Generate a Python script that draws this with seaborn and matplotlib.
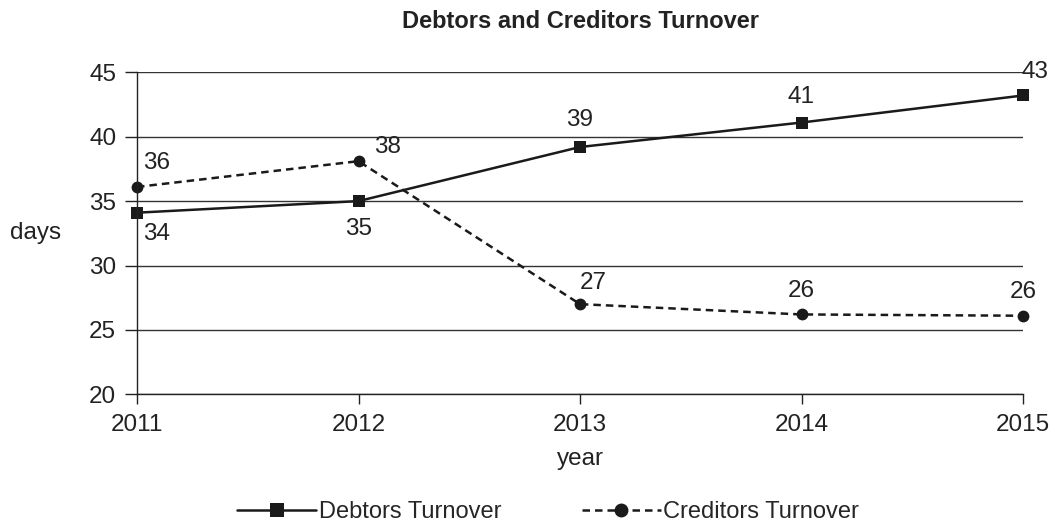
import pandas as pd
import seaborn as sns
import matplotlib.pyplot as plt

years = [2011, 2012, 2013, 2014, 2015]
debtors = [34.1, 35.0, 39.2, 41.1, 43.2]
creditors = [36.1, 38.1, 27.0, 26.2, 26.1]
series_names = ["Debtors Turnover", "Creditors Turnover"]

# label offsets in pixels (dx, dy) for each point
debtor_offsets = [(20, -21), (0, -28), (0, 27), (0, 26), (12, 23)]
creditor_offsets = [(20, 24), (29, 14), (13, 21), (0, 23), (0, 24)]

df = pd.DataFrame({
    "year": years * 2,
    "days": debtors + creditors,
    "series": [series_names[0]] * 5 + [series_names[1]] * 5,
})

sns.set_style("white")
plt.rcParams["font.family"] = ["Liberation Sans", "DejaVu Sans"]
FS = 17.5
INK = "#222222"

fig = plt.figure(figsize=(10.56, 5.24), dpi=100)
ax = fig.add_axes([137 / 1056, 1 - 394.3 / 524, (1023 - 137) / 1056, (394.3 - 72.3) / 524])

sns.lineplot(
    data=df, x="year", y="days", style="series", hue="series",
    palette={series_names[0]: "#1a1a1a", series_names[1]: "#1a1a1a"},
    markers={series_names[0]: "s", series_names[1]: "o"},
    dashes={series_names[0]: "", series_names[1]: (3, 2)},
    markersize=8.5, linewidth=1.8, markeredgewidth=0, ax=ax, legend=True,
)
for ln in ax.lines:
    ln.set_clip_on(False)

for yr, v, (dx, dy) in zip(years, debtors, debtor_offsets):
    ax.annotate(f"{v:.0f}", (yr, v), xytext=(dx, dy), textcoords="offset pixels",
                ha="center", va="center", fontsize=FS, color=INK)
for yr, v, (dx, dy) in zip(years, creditors, creditor_offsets):
    ax.annotate(f"{v:.0f}", (yr, v), xytext=(dx, dy), textcoords="offset pixels",
                ha="center", va="center", fontsize=FS, color=INK)

ax.set_xlim(2011, 2015)
ax.set_ylim(20, 45)
ax.set_xticks(years)
ax.set_yticks([20, 25, 30, 35, 40, 45])
ax.yaxis.grid(True, color="#333333", linewidth=1.0)
ax.set_axisbelow(True)
for s in ["top", "right"]:
    ax.spines[s].set_visible(False)
for s in ["left", "bottom"]:
    ax.spines[s].set_color(INK)
    ax.spines[s].set_linewidth(1.0)
ax.tick_params(axis="y", direction="out", length=9, width=1, color=INK,
               labelsize=FS, pad=6, left=True, labelcolor=INK)
ax.tick_params(axis="x", direction="out", length=7, width=1, color=INK,
               labelsize=FS, pad=7, bottom=True, labelcolor=INK)
ax.set_xlabel("year", fontsize=FS, labelpad=9, color=INK)
ax.set_ylabel("days", fontsize=FS, rotation=0, color=INK, va="center", ha="center")
ax.yaxis.set_label_coords(-0.115, 0.5)

ax.set_title("Debtors and Creditors Turnover", fontsize=17, fontweight="bold",
             pad=32, color=INK)

handles, labels = ax.get_legend_handles_labels()
for h in handles:
    h.set_markersize(10)
ax.legend(handles, labels, loc="center", bbox_to_anchor=(0.464, -0.367), ncol=2,
          frameon=False, fontsize=17, handlelength=3.35, columnspacing=3.4,
          handletextpad=0.1)

fig.savefig("out.png", dpi=100)
